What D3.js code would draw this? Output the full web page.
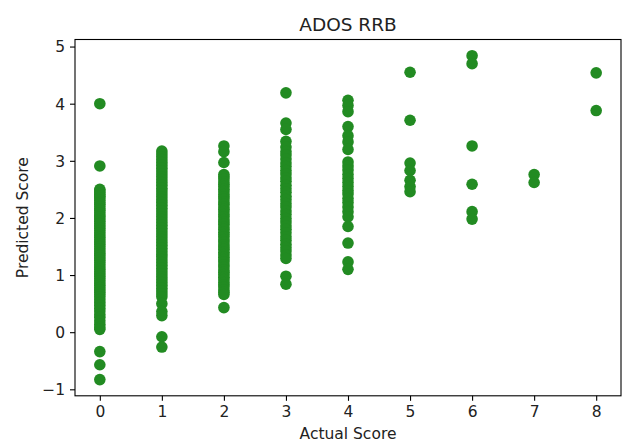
<!DOCTYPE html>
<html>
<head>
<meta charset="utf-8">
<script src="https://cdn.jsdelivr.net/npm/d3@7"></script>
<style>
  html, body { margin: 0; padding: 0; background: #fff; }
  svg { display: block; font-family: "DejaVu Sans", sans-serif; }
</style>
</head>
<body>
<svg id="chart" width="625" height="444"></svg>
<script>
// Actual ADOS RRB scores (x categories)
const actualScores = [0, 1, 2, 3, 4, 5, 6, 7, 8];

// Predicted scores for each actual score
const pred0 = [4.00, 2.91, 2.50, 2.47, 2.44, 2.41, 2.38, 2.35, 2.31, 2.27, 2.24, 2.20, 2.16, 2.13, 2.09, 2.05,
  2.02, 1.98, 1.94, 1.90, 1.86, 1.82, 1.78, 1.74, 1.70, 1.66, 1.62, 1.58, 1.54, 1.50, 1.46, 1.42, 1.38,
  1.34, 1.30, 1.26, 1.22, 1.18, 1.14, 1.10, 1.06, 1.02, 0.98, 0.94, 0.90, 0.86, 0.82, 0.78, 0.74, 0.70,
  0.66, 0.62, 0.57, 0.52, 0.47, 0.42, 0.37, 0.31, 0.26, 0.20, 0.14, 0.09, 0.05, -0.34, -0.57, -0.83];
const pred1 = [3.17, 3.12, 3.07, 3.02, 2.97, 2.92, 2.87, 2.82, 2.77, 2.72, 2.67, 2.62, 2.57, 2.52, 2.47, 2.42,
  2.37, 2.32, 2.27, 2.22, 2.17, 2.12, 2.07, 2.02, 1.97, 1.92, 1.87, 1.82, 1.77, 1.72, 1.67, 1.62, 1.57,
  1.52, 1.47, 1.42, 1.37, 1.32, 1.27, 1.22, 1.17, 1.12, 1.07, 1.02, 0.97, 0.92, 0.87, 0.82, 0.77, 0.72,
  0.67, 0.62, 0.50, 0.36, 0.29, -0.08, -0.26];
const pred2 = [3.26, 3.16, 2.97, 2.76, 2.72, 2.68, 2.63, 2.59, 2.55, 2.50, 2.46, 2.41, 2.37, 2.33, 2.28, 2.24,
  2.19, 2.15, 2.11, 2.06, 2.02, 1.97, 1.93, 1.89, 1.84, 1.80, 1.75, 1.71, 1.67, 1.62, 1.58, 1.53, 1.49,
  1.45, 1.40, 1.36, 1.31, 1.27, 1.23, 1.18, 1.14, 1.09, 1.05, 1.01, 0.96, 0.92, 0.87, 0.83, 0.79, 0.74,
  0.70, 0.66, 0.43];
const pred3 = [4.19, 3.66, 3.55, 3.34, 3.24, 3.16, 3.10, 3.03, 2.96, 2.90, 2.83, 2.77, 2.70, 2.64, 2.57, 2.51,
  2.45, 2.38, 2.32, 2.25, 2.19, 2.12, 2.06, 1.99, 1.93, 1.86, 1.80, 1.74, 1.67, 1.61, 1.54, 1.48, 1.42,
  1.35, 1.29, 0.98, 0.84];
const pred4 = [4.06, 3.97, 3.86, 3.60, 3.44, 3.33, 3.20, 2.98, 2.91, 2.84, 2.76, 2.69, 2.62, 2.55, 2.48, 2.42,
  2.34, 2.27, 2.19, 2.11, 2.02, 1.85, 1.56, 1.23, 1.10];
const pred5 = [4.55, 3.71, 2.96, 2.83, 2.66, 2.55, 2.46];
const pred6 = [4.84, 4.70, 3.26, 2.59, 2.11, 1.98];
const pred7 = [2.76, 2.62];
const pred8 = [4.54, 3.88];

const predicted = [pred0, pred1, pred2, pred3, pred4, pred5, pred6, pred7, pred8];

const xTicks = [0, 1, 2, 3, 4, 5, 6, 7, 8];
const yTicks = [-1, 0, 1, 2, 3, 4, 5];

// Flatten into (actual, predicted) pairs
const points = [];
actualScores.forEach((a, i) => predicted[i].forEach(p => points.push({ actual: a, predicted: p })));

const svg = d3.select("#chart");
const plot = { left: 75, right: 621, top: 39.5, bottom: 395.8 };

// Axis limits padded by 5% of the data span on each side
const xExt = d3.extent(points, d => d.actual);
const yExt = d3.extent(points, d => d.predicted);
const xPad = (xExt[1] - xExt[0]) * 0.05;
const yPad = (yExt[1] - yExt[0]) * 0.05;

const x = d3.scaleLinear().domain([xExt[0] - xPad, xExt[1] + xPad]).range([plot.left, plot.right]);
const y = d3.scaleLinear().domain([yExt[0] - yPad, yExt[1] + yPad]).range([plot.bottom, plot.top]);

// Points
svg.append("g")
  .selectAll("circle")
  .data(points)
  .join("circle")
  .attr("cx", d => x(d.actual))
  .attr("cy", d => y(d.predicted))
  .attr("r", 5.8)
  .attr("fill", "#228b22");

// Frame
svg.append("rect")
  .attr("x", plot.left).attr("y", plot.top)
  .attr("width", plot.right - plot.left).attr("height", plot.bottom - plot.top)
  .attr("fill", "none").attr("stroke", "#000").attr("stroke-width", 1.1);

// Axes
const xAxis = svg.append("g")
  .attr("transform", `translate(0,${plot.bottom})`)
  .call(d3.axisBottom(x).tickValues(xTicks).tickFormat(d3.format("d")).tickSize(5).tickPadding(5));
const yAxis = svg.append("g")
  .attr("transform", `translate(${plot.left},0)`)
  .call(d3.axisLeft(y).tickValues(yTicks).tickFormat(d3.format("d")).tickSize(5).tickPadding(5));

[xAxis, yAxis].forEach(g => {
  g.select(".domain").remove();
  g.selectAll(".tick line").attr("stroke", "#000").attr("stroke-width", 1.1);
  g.selectAll(".tick text")
    .attr("fill", "#222")
    .style("font-family", "DejaVu Sans, sans-serif")
    .style("font-size", "15.5px");
});
yAxis.selectAll(".tick text").attr("dy", "0.35em");

// Title and axis labels
svg.append("text")
  .attr("x", (plot.left + plot.right) / 2).attr("y", 31)
  .attr("text-anchor", "middle")
  .attr("fill", "#222")
  .style("font-size", "18.5px")
  .text("ADOS RRB");

svg.append("text")
  .attr("x", (plot.left + plot.right) / 2).attr("y", 439)
  .attr("text-anchor", "middle")
  .attr("fill", "#222")
  .style("font-size", "15.5px")
  .text("Actual Score");

svg.append("text")
  .attr("transform", `translate(28,${(plot.top + plot.bottom) / 2}) rotate(-90)`)
  .attr("text-anchor", "middle")
  .attr("fill", "#222")
  .style("font-size", "15.5px")
  .text("Predicted Score");
</script>
</body>
</html>
